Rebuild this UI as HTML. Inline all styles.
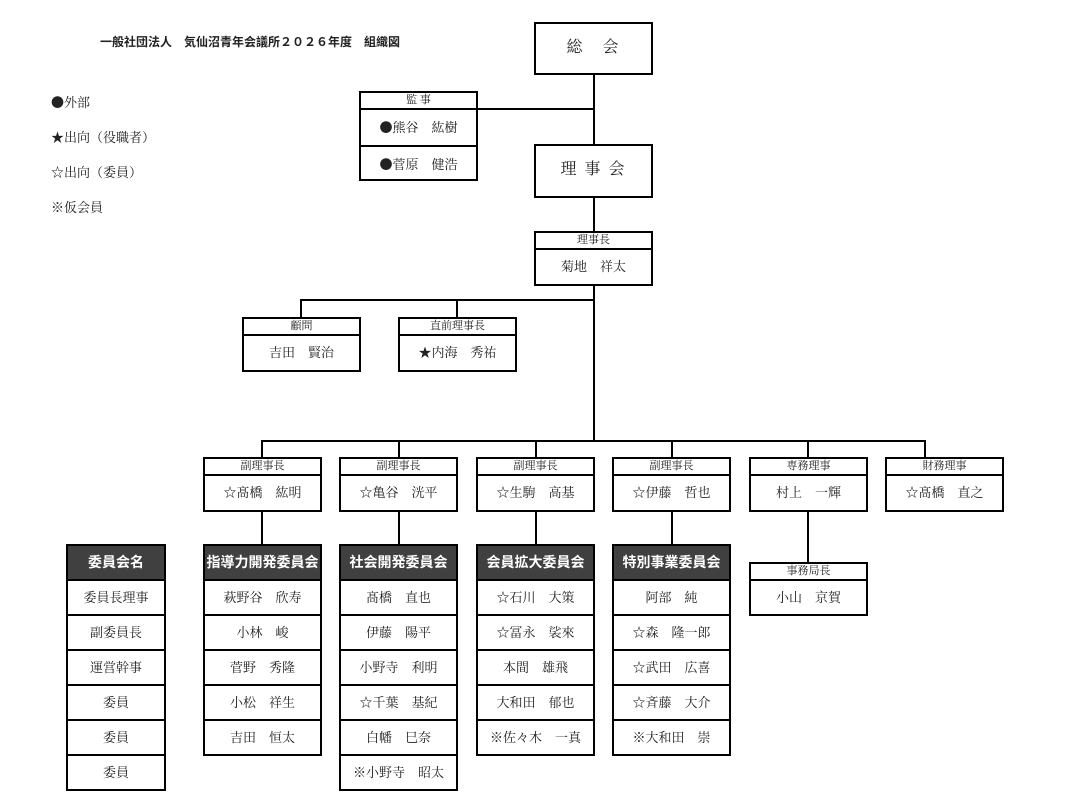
<!DOCTYPE html>
<html><head><meta charset="utf-8">
<style>
body{margin:0;width:1067px;height:810px;background:#fff;position:relative;overflow:hidden;font-family:"Liberation Serif","Noto Serif CJK SC",serif;color:#222}
.a{position:absolute}
.l{position:absolute;background:#000}
.b{position:absolute;border:2px solid #000;box-sizing:border-box;background:#fff}
.h{height:15px;border-bottom:2px solid #000;font-size:11px;line-height:15px;text-align:center}
.n{text-align:center;font-size:13px;line-height:34px}
.big{text-align:center;font-size:16px;line-height:48px;letter-spacing:2px}
.t{position:absolute;border:2px solid #000;box-sizing:border-box;background:#fff}
.t div{height:35px;box-sizing:border-box;border-top:2px solid #000;text-align:center;font-size:13px;line-height:33px}
.t div.hd{border-top:none;height:33px;background:#404040;color:#fff;font-weight:bold;font-family:"Liberation Sans","Noto Sans CJK SC",sans-serif;font-size:14px;line-height:33px}
.lg{position:absolute;left:51px;font-size:13px}
.c{font-family:"Noto Sans CJK JP",sans-serif}
</style></head><body>
<div class="a" style="left:100px;top:33px;font-size:12px;font-weight:bold;font-family:'Liberation Sans','Noto Sans CJK SC',sans-serif;">一般社団法人　気仙沼青年会議所２０２６年度　組織図</div>
<div class="lg" style="top:92px"><span class="c">●</span>外部</div>
<div class="lg" style="top:127px">★出向（役職者）</div>
<div class="lg" style="top:162px">☆出向（委員）</div>
<div class="lg" style="top:197px">※仮会員</div>

<div class="l" style="left:593px;top:74px;width:2px;height:71px"></div>
<div class="l" style="left:593px;top:197px;width:2px;height:35px"></div>
<div class="l" style="left:593px;top:285px;width:2px;height:157px"></div>
<div class="l" style="left:477px;top:108px;width:117px;height:2px"></div>
<div class="l" style="left:300px;top:299px;width:295px;height:2px"></div>
<div class="l" style="left:300px;top:299px;width:2px;height:19px"></div>
<div class="l" style="left:456px;top:299px;width:2px;height:19px"></div>
<div class="l" style="left:261px;top:440px;width:665px;height:2px"></div>
<div class="l" style="left:261px;top:440px;width:2px;height:18px"></div>
<div class="l" style="left:398px;top:440px;width:2px;height:18px"></div>
<div class="l" style="left:535px;top:440px;width:2px;height:18px"></div>
<div class="l" style="left:671px;top:440px;width:2px;height:18px"></div>
<div class="l" style="left:807px;top:440px;width:2px;height:18px"></div>
<div class="l" style="left:924px;top:440px;width:2px;height:18px"></div>
<div class="l" style="left:261px;top:511px;width:2px;height:34px"></div>
<div class="l" style="left:398px;top:511px;width:2px;height:34px"></div>
<div class="l" style="left:535px;top:511px;width:2px;height:34px"></div>
<div class="l" style="left:671px;top:511px;width:2px;height:34px"></div>
<div class="l" style="left:807px;top:511px;width:2px;height:52px"></div>

<div class="b" style="left:534px;top:22px;width:119px;height:53px"><div class="big">総　会</div></div>
<div class="b" style="left:534px;top:144px;width:119px;height:54px"><div class="big">理 事 会</div></div>
<div class="b" style="left:359px;top:91px;width:119px;height:90px"><div class="h">監 事</div><div class="n" style="border-bottom:2px solid #000"><span class="c">●</span>熊谷　紘樹</div><div class="n"><span class="c">●</span>菅原　健浩</div></div>
<div class="b" style="left:534px;top:231px;width:119px;height:55px"><div class="h">理事長</div><div class="n">菊地　祥太</div></div>
<div class="b" style="left:242px;top:317px;width:119px;height:55px"><div class="h">顧問</div><div class="n">吉田　賢治</div></div>
<div class="b" style="left:398px;top:317px;width:119px;height:55px"><div class="h">直前理事長</div><div class="n">★内海　秀祐</div></div>

<div class="b" style="left:203px;top:457px;width:119px;height:55px"><div class="h">副理事長</div><div class="n">☆髙橋　紘明</div></div>
<div class="b" style="left:339px;top:457px;width:119px;height:55px"><div class="h">副理事長</div><div class="n">☆亀谷　洸平</div></div>
<div class="b" style="left:476px;top:457px;width:119px;height:55px"><div class="h">副理事長</div><div class="n">☆生駒　高基</div></div>
<div class="b" style="left:612px;top:457px;width:119px;height:55px"><div class="h">副理事長</div><div class="n">☆伊藤　哲也</div></div>
<div class="b" style="left:749px;top:457px;width:119px;height:55px"><div class="h">専務理事</div><div class="n">村上　一輝</div></div>
<div class="b" style="left:885px;top:457px;width:119px;height:55px"><div class="h">財務理事</div><div class="n">☆髙橋　直之</div></div>
<div class="b" style="left:749px;top:562px;width:119px;height:54px"><div class="h">事務局長</div><div class="n">小山　京賀</div></div>

<div class="t" style="left:66px;top:544px;width:100px">
<div class="hd">委員会名</div><div>委員長理事</div><div>副委員長</div><div>運営幹事</div><div>委員</div><div>委員</div><div>委員</div></div>
<div class="t" style="left:203px;top:544px;width:119px">
<div class="hd">指導力開発委員会</div><div>萩野谷　欣寿</div><div>小林　峻</div><div>菅野　秀隆</div><div>小松　祥生</div><div>吉田　恒太</div></div>
<div class="t" style="left:339px;top:544px;width:119px">
<div class="hd">社会開発委員会</div><div>髙橋　直也</div><div>伊藤　陽平</div><div>小野寺　利明</div><div>☆千葉　基紀</div><div>白幡　巳奈</div><div>※小野寺　昭太</div></div>
<div class="t" style="left:476px;top:544px;width:119px">
<div class="hd">会員拡大委員会</div><div>☆石川　大策</div><div>☆冨永　裟來</div><div>本間　雄飛</div><div>大和田　郁也</div><div>※佐々木　一真</div></div>
<div class="t" style="left:612px;top:544px;width:119px">
<div class="hd">特別事業委員会</div><div>阿部　純</div><div>☆森　隆一郎</div><div>☆武田　広喜</div><div>☆斉藤　大介</div><div>※大和田　崇</div></div>
</body></html>
